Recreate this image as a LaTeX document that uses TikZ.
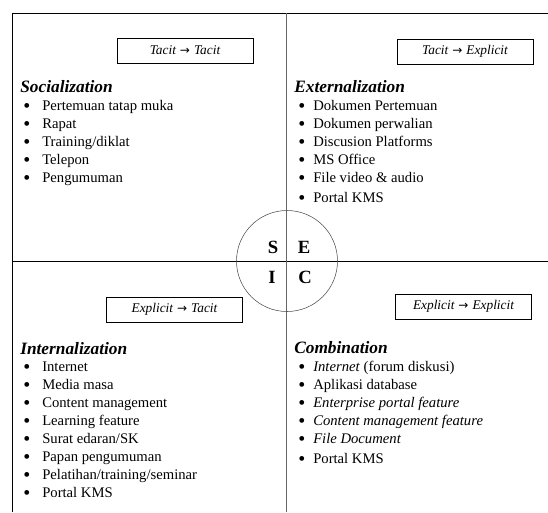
\documentclass[tikz,border=0pt]{standalone}
\usepackage{fontspec}
\setmainfont{Liberation Serif}
\newfontfamily\arrowfont{DejaVu Sans}
\usetikzlibrary{positioning}
\tikzstyle{modebox} = [rectangle, draw=black, thin, minimum width=102pt, minimum height=18.75pt, inner sep=0pt, font=\fontsize{10}{12}\selectfont\itshape]
\tikzstyle{title} = [inner sep=0pt, font=\fontsize{13}{15}\selectfont\bfseries\itshape]
\tikzstyle{items} = [inner sep=0pt, align=left, font=\fontsize{11}{13.5}\selectfont]
\tikzstyle{letter} = [inner sep=0pt, font=\fontsize{14}{16}\selectfont\bfseries]
\newcommand{\bigbul}{\raisebox{-0.25ex}{\fontsize{15}{15}\selectfont\textbullet}}
\newcommand{\litem}{\makebox[14.25pt][l]{\bigbul}}
\newcommand{\ritem}{\makebox[11.25pt][l]{\bigbul}}
\newcommand{\conv}{\hspace{3pt}{\arrowfont\upshape\fontsize{9}{11}\selectfont →}\hspace{3pt}}

\begin{document}
\begin{tikzpicture}[x=0.75pt, y=-0.75pt]
\useasboundingbox (0,0) rectangle (548,512);
% Frame and quadrants
\coordinate (tl) at (12,13);
\coordinate (tr) at (548,13);
\coordinate (bl) at (12,512);
\coordinate (ml) at (12,261);
\coordinate (mr) at (548,261);
\coordinate (mt) at (286,13);
\coordinate (mb) at (286,512);
\coordinate (c) at (287,261);
\draw [thin] (bl) -- (tl) -- (tr);
\draw [thin] (ml) -- (mr);
\draw [black!60, thin] (mt) -- (mb);
\draw [black!70, thin] (c) circle (50.5);

% Centre letters
\node (s) [letter] at (273,247) {S};
\node (e) [letter] at (304,247) {E};
\node (i) [letter] at (272,277.5) {I};
\node (k) [letter] at (305,277.5) {C};

% Conversion boxes
\node (tt) [modebox] at (185,50.5) {Tacit\conv Tacit};
\node (te) [modebox] at (465,51.5) {Tacit\conv Explicit};
\node (et) [modebox] at (174.5,309.5) {Explicit\conv Tacit};
\node (ee) [modebox] at (463.5,306.5) {Explicit\conv Explicit};

% Socialization
\node (soc) [title, anchor=base west] at (20,92) {Socialization};
\node (socl) [items, anchor=north west] at (23,100) {\litem Pertemuan tatap muka\\ \litem Rapat\\ \litem Training/diklat\\ \litem Telepon\\ \litem Pengumuman};

% Externalization
\node (ext) [title, anchor=base west] at (294,92) {Externalization};
\node (extl) [items, anchor=north west] at (298,100) {\ritem Dokumen Pertemuan\\ \ritem Dokumen perwalian\\ \ritem Discusion Platforms\\ \ritem MS Office\\ \ritem File video \& audio\\[1.5pt] \ritem Portal KMS};

% Internalization
\node (int) [title, anchor=base west] at (20,354) {Internalization};
\node (intl) [items, anchor=north west] at (23,362) {\litem Internet\\ \litem Media masa\\ \litem Content management\\ \litem Learning feature\\ \litem Surat edaran/SK\\ \litem Papan pengumuman\\ \litem Pelatihan/training/seminar\\ \litem Portal KMS};

% Combination
\node (com) [title, anchor=base west] at (294,353) {Combination};
\node (coml) [items, anchor=north west] at (298,361) {\ritem \textit{Internet} (forum diskusi)\\ \ritem Aplikasi database\\ \ritem \textit{Enterprise portal feature}\\ \ritem \textit{Content management feature}\\ \ritem \textit{File Document}\\[1.5pt] \ritem Portal KMS};
\end{tikzpicture}
\end{document}
